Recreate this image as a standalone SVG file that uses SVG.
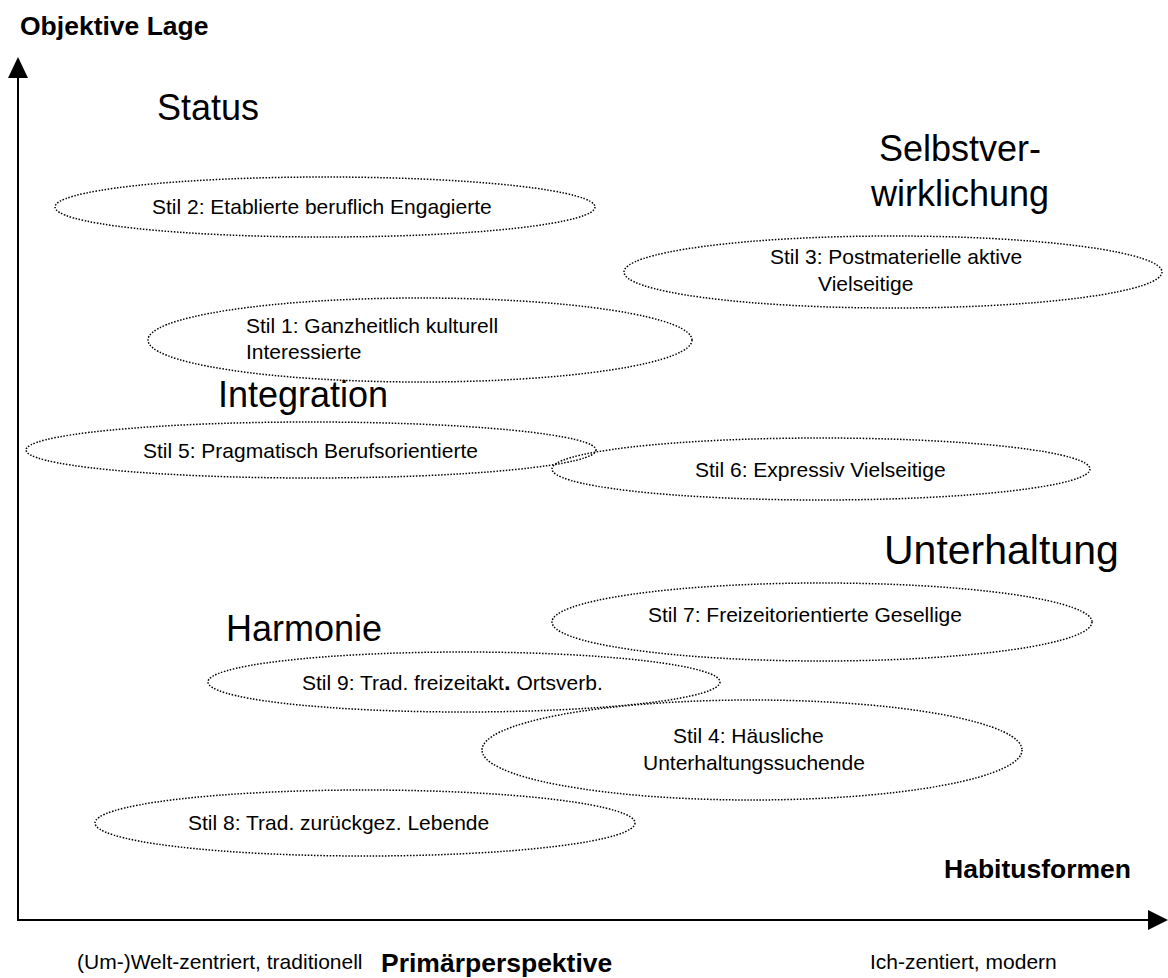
<svg xmlns="http://www.w3.org/2000/svg" width="1168" height="978" viewBox="0 0 1168 978">
<style>
.bg{fill:#fff}
.ell{fill:none;stroke:#000;stroke-width:1.5;stroke-dasharray:1.5 1.6}
.fill{fill:#fff}
.t{font-family:"Liberation Sans",Arial,sans-serif;font-size:21px;fill:#000}
.big{font-family:"Liberation Sans",Arial,sans-serif;font-size:36px;fill:#000}
.b{font-family:"Liberation Sans",Arial,sans-serif;font-size:26.5px;font-weight:bold;fill:#000}
.axis{stroke:#000;stroke-width:2;fill:none}
</style>
<rect class="bg" x="0" y="0" width="1168" height="978"/>
<g id="connectors">
<line class="axis" x1="18" y1="921" x2="18" y2="74"/>
<polygon points="18,57 8,78 28,78" fill="#000"/>
<line class="axis" x1="17" y1="920" x2="1152" y2="920"/>
<polygon points="1168,920 1148,910 1148,930" fill="#000"/>
</g>
<g id="axis-labels">
<text class="b" x="20" y="35">Objektive Lage</text>
<text class="b" x="944" y="878">Habitusformen</text>
<text class="b" x="381" y="972">Primärperspektive</text>
<text class="t" x="77" y="969">(Um-)Welt-zentriert, traditionell</text>
<text class="t" x="870" y="969">Ich-zentiert, modern</text>
</g>
<g id="categories">
<text class="big" x="157" y="120">Status</text>
<text class="big" x="960" y="161" text-anchor="middle">Selbstver-</text>
<text class="big" x="960" y="206" text-anchor="middle">wirklichung</text>
<text class="big" x="218" y="407">Integration</text>
<text class="big" x="884" y="564" style="font-size:41px">Unterhaltung</text>
<text class="big" x="226" y="641">Harmonie</text>
</g>
<g id="stil2">
<ellipse class="ell" cx="325" cy="207" rx="270" ry="30"/>
<text class="t" x="152" y="214">Stil 2: Etablierte beruflich Engagierte</text>
</g>
<g id="stil3">
<ellipse class="ell" cx="893" cy="272" rx="269" ry="36"/>
<text class="t" x="770" y="264">Stil 3: Postmaterielle aktive</text>
<text class="t" x="818" y="291">Vielseitige</text>
</g>
<g id="stil1">
<ellipse class="ell" cx="420" cy="340" rx="272" ry="42"/>
<text class="t" x="246" y="333">Stil 1: Ganzheitlich kulturell</text>
<text class="t" x="246" y="359">Interessierte</text>
</g>
<g id="stil5">
<ellipse class="ell" cx="311" cy="450" rx="285" ry="28"/>
<text class="t" x="143" y="458">Stil 5: Pragmatisch Berufsorientierte</text>
</g>
<g id="stil6">
<ellipse class="ell" cx="821" cy="469" rx="269" ry="31"/>
<text class="t" x="695" y="477">Stil 6: Expressiv Vielseitige</text>
</g>
<g id="stil7">
<ellipse class="ell" cx="822" cy="622" rx="270" ry="39"/>
<text class="t" x="648" y="622">Stil 7: Freizeitorientierte Gesellige</text>
</g>
<g id="stil9">
<ellipse class="ell" cx="464" cy="682" rx="256" ry="30"/>
<text class="t" x="302" y="690">Stil 9: Trad. freizeitakt<tspan font-weight="bold" font-size="24">.</tspan> Ortsverb.</text>
</g>
<g id="stil4">
<ellipse class="ell fill" cx="752" cy="750" rx="270" ry="50"/>
<text class="t" x="673" y="743">Stil 4: Häusliche</text>
<text class="t" x="643" y="770">Unterhaltungssuchende</text>
</g>
<g id="stil8">
<ellipse class="ell" cx="365" cy="823" rx="270" ry="33"/>
<text class="t" x="188" y="830">Stil 8: Trad. zurückgez. Lebende</text>
</g>
</svg>
